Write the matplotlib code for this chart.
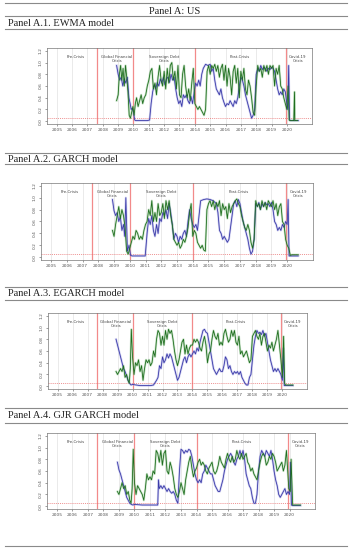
import matplotlib
matplotlib.use("Agg")
import matplotlib.pyplot as plt

# ---------------- data ----------------
years = list(range(2005, 2021))
yticks = [0.0, 0.2, 0.4, 0.6, 0.8, 1.0, 1.2]
crisis_breaks = [2007.6, 2010.0, 2014.0, 2019.93]
threshold = 0.05
region_names = ["Pre-Crisis", "Global Financial\nCrisis", "Sovereign Debt\nCrisis", "Post-Crisis", "Covid-19\nCrisis"]
region_x = [2006.2, 2008.9, 2012.0, 2016.9, 2020.7]
panel_titles = ["Panel A.1. EWMA model", "Panel A.2. GARCH model",
                "Panel A.3. EGARCH model", "Panel A.4. GJR GARCH model"]

# (time, value) pairs
ewma_blue = [(2008.90,0.95),(2009.00,0.80),(2009.10,0.70),(2009.20,0.75),(2009.30,0.60),(2009.40,0.72),(2009.50,0.65),(2009.60,0.75),(2009.70,0.40),(2009.78,0.30),(2009.85,0.20),(2009.92,0.22),(2010.00,0.15),(2010.08,0.02),(2010.15,0.01),(2010.50,0.01),(2010.90,0.01),(2011.05,0.02),(2011.15,0.30),(2011.25,0.50),(2011.35,0.62),(2011.45,0.55),(2011.55,0.66),(2011.65,0.60),(2011.75,0.72),(2011.85,0.65),(2011.95,0.75),(2012.05,0.62),(2012.15,0.72),(2012.25,0.75),(2012.35,0.66),(2012.45,0.80),(2012.55,0.70),(2012.65,0.75),(2012.75,0.55),(2012.85,0.40),(2012.95,0.30),(2013.05,0.35),(2013.15,0.25),(2013.25,0.45),(2013.35,0.40),(2013.45,0.45),(2013.55,0.35),(2013.65,0.30),(2013.75,0.42),(2013.85,0.30),(2013.95,0.48),(2014.05,0.65),(2014.15,0.60),(2014.25,0.70),(2014.35,0.60),(2014.45,0.80),(2014.55,0.90),(2014.70,0.97),(2014.85,0.95),(2015.00,0.97),(2015.10,0.85),(2015.20,0.90),(2015.30,0.70),(2015.40,0.55),(2015.50,0.50),(2015.60,0.45),(2015.70,0.55),(2015.80,0.40),(2015.90,0.32),(2016.00,0.25),(2016.10,0.30),(2016.20,0.28),(2016.30,0.35),(2016.40,0.30),(2016.50,0.25),(2016.60,0.35),(2016.70,0.30),(2016.80,0.40),(2016.90,0.60),(2017.00,0.75),(2017.10,0.70),(2017.20,0.60),(2017.30,0.45),(2017.40,0.35),(2017.50,0.25),(2017.60,0.15),(2017.70,0.05),(2017.80,0.10),(2017.90,0.20),(2018.00,0.80),(2018.10,0.90),(2018.20,0.85),(2018.30,0.95),(2018.40,0.88),(2018.50,0.92),(2018.60,0.90),(2018.70,0.85),(2018.80,0.90),(2018.90,0.88),(2019.00,0.92),(2019.10,0.90),(2019.20,0.85),(2019.30,0.70),(2019.40,0.55),(2019.50,0.45),(2019.60,0.50),(2019.70,0.45),(2019.80,0.55),(2019.90,0.50),(2020.00,0.30),(2020.06,0.20),(2020.12,0.95),(2020.18,0.02),(2020.25,0.01),(2020.75,0.01)]
ewma_green = [(2008.90,0.35),(2009.00,0.45),(2009.08,0.80),(2009.16,0.95),(2009.24,0.70),(2009.32,0.90),(2009.40,0.60),(2009.48,0.95),(2009.56,0.75),(2009.64,0.50),(2009.72,0.10),(2009.80,0.05),(2009.88,0.15),(2009.96,0.25),(2010.04,0.10),(2010.12,0.30),(2010.20,0.40),(2010.30,0.25),(2010.40,0.35),(2010.50,0.45),(2010.60,0.30),(2010.70,0.40),(2010.80,0.45),(2010.90,0.60),(2011.00,0.70),(2011.10,0.85),(2011.20,0.90),(2011.30,0.55),(2011.40,0.65),(2011.50,0.45),(2011.60,0.75),(2011.70,0.95),(2011.80,0.70),(2011.90,0.60),(2012.00,0.85),(2012.10,0.55),(2012.20,0.90),(2012.30,0.65),(2012.40,0.95),(2012.50,1.00),(2012.60,0.70),(2012.70,0.85),(2012.80,0.55),(2012.90,0.95),(2013.00,0.45),(2013.10,0.40),(2013.20,0.80),(2013.30,0.95),(2013.40,0.60),(2013.50,0.40),(2013.60,0.55),(2013.70,0.35),(2013.80,0.65),(2013.90,0.90),(2014.00,0.30),(2014.10,0.25),(2014.20,0.20),(2014.30,0.25),(2014.40,0.20),(2014.50,0.15),(2014.60,0.10),(2014.70,0.20),(2014.80,0.85),(2014.90,0.95),(2015.00,0.80),(2015.10,0.95),(2015.20,0.90),(2015.30,0.97),(2015.40,0.85),(2015.50,0.95),(2015.60,0.75),(2015.70,0.90),(2015.80,0.97),(2015.90,0.70),(2016.00,0.95),(2016.10,0.60),(2016.20,0.90),(2016.30,0.75),(2016.40,0.45),(2016.50,0.85),(2016.60,0.95),(2016.70,0.65),(2016.80,0.90),(2016.90,0.40),(2017.00,0.85),(2017.10,0.70),(2017.20,0.90),(2017.30,0.55),(2017.40,0.45),(2017.50,0.70),(2017.60,0.60),(2017.70,0.40),(2017.80,0.15),(2017.90,0.10),(2018.00,0.60),(2018.10,0.95),(2018.20,0.85),(2018.30,0.90),(2018.40,0.75),(2018.50,0.95),(2018.60,0.85),(2018.70,0.95),(2018.80,0.80),(2018.90,0.95),(2019.00,0.90),(2019.10,0.95),(2019.20,0.60),(2019.30,0.90),(2019.40,0.80),(2019.50,0.95),(2019.60,0.60),(2019.70,0.55),(2019.80,0.40),(2019.90,0.30),(2020.00,0.20),(2020.08,0.60),(2020.15,0.02),(2020.20,0.01),(2020.45,0.01),(2020.50,0.50),(2020.52,0.01),(2020.70,0.01)]

garch_blue = [(2008.90,0.97),(2009.00,0.78),(2009.10,0.70),(2009.20,0.75),(2009.30,0.60),(2009.40,0.68),(2009.50,0.45),(2009.60,0.55),(2009.68,0.35),(2009.75,1.00),(2009.85,0.10),(2009.95,0.20),(2010.05,0.03),(2010.15,0.02),(2010.50,0.02),(2010.98,0.02),(2011.10,0.40),(2011.20,0.65),(2011.30,0.55),(2011.40,0.70),(2011.50,0.45),(2011.60,0.35),(2011.70,0.55),(2011.80,0.40),(2011.90,0.65),(2012.00,0.60),(2012.10,0.75),(2012.20,0.70),(2012.30,0.80),(2012.40,0.65),(2012.50,0.90),(2012.60,0.75),(2012.70,0.55),(2012.80,0.30),(2012.90,0.40),(2013.00,0.35),(2013.10,0.25),(2013.20,0.35),(2013.30,0.30),(2013.40,0.40),(2013.50,0.45),(2013.60,0.35),(2013.70,0.60),(2013.80,0.80),(2013.90,0.65),(2014.00,0.55),(2014.10,0.50),(2014.20,0.55),(2014.30,0.45),(2014.40,0.70),(2014.50,0.95),(2014.70,0.97),(2014.90,0.98),(2015.10,0.97),(2015.30,0.95),(2015.50,0.90),(2015.60,0.75),(2015.70,0.45),(2015.80,0.40),(2015.90,0.30),(2016.00,0.35),(2016.10,0.30),(2016.20,0.25),(2016.30,0.30),(2016.40,0.50),(2016.50,0.70),(2016.60,0.90),(2016.70,0.95),(2016.80,0.85),(2016.90,0.97),(2017.00,0.90),(2017.10,0.75),(2017.20,0.60),(2017.30,0.50),(2017.40,0.40),(2017.50,0.30),(2017.60,0.15),(2017.70,0.05),(2017.80,0.10),(2017.90,0.30),(2018.00,0.90),(2018.10,0.85),(2018.20,0.92),(2018.30,0.80),(2018.40,0.90),(2018.50,0.85),(2018.60,0.92),(2018.70,0.88),(2018.80,0.90),(2018.90,0.85),(2019.00,0.92),(2019.10,0.80),(2019.20,0.60),(2019.30,0.55),(2019.40,0.45),(2019.50,0.50),(2019.60,0.45),(2019.70,0.55),(2019.80,0.50),(2019.90,0.60),(2020.00,0.55),(2020.06,0.97),(2020.12,0.02),(2020.18,0.02),(2020.25,0.02),(2020.70,0.02)]
garch_green = [(2008.90,0.45),(2009.00,0.35),(2009.10,0.55),(2009.20,0.70),(2009.30,0.85),(2009.40,0.65),(2009.50,0.80),(2009.60,0.70),(2009.70,0.50),(2009.80,0.10),(2009.90,0.05),(2010.00,0.15),(2010.10,0.25),(2010.20,0.35),(2010.30,0.30),(2010.40,0.45),(2010.50,0.40),(2010.60,0.30),(2010.70,0.35),(2010.80,0.30),(2010.90,0.45),(2011.00,0.55),(2011.10,0.60),(2011.20,0.80),(2011.30,0.70),(2011.40,0.95),(2011.50,0.60),(2011.60,0.75),(2011.70,0.60),(2011.80,0.90),(2011.90,0.70),(2012.00,0.75),(2012.10,0.90),(2012.20,0.65),(2012.30,0.95),(2012.40,0.80),(2012.50,0.95),(2012.60,0.70),(2012.70,0.55),(2012.80,0.30),(2012.90,0.25),(2013.00,0.20),(2013.10,0.25),(2013.20,0.15),(2013.30,0.20),(2013.40,0.30),(2013.50,0.25),(2013.60,0.35),(2013.70,0.50),(2013.80,0.75),(2013.90,0.90),(2014.00,0.35),(2014.10,0.45),(2014.20,0.40),(2014.30,0.25),(2014.40,0.20),(2014.50,0.15),(2014.60,0.20),(2014.70,0.12),(2014.80,0.10),(2014.90,0.80),(2015.00,0.90),(2015.10,0.95),(2015.20,0.85),(2015.30,0.95),(2015.40,0.80),(2015.50,0.92),(2015.60,0.85),(2015.70,0.95),(2015.80,0.70),(2015.90,0.90),(2016.00,0.80),(2016.10,0.85),(2016.20,0.65),(2016.30,0.90),(2016.40,0.75),(2016.50,0.85),(2016.60,0.90),(2016.70,0.95),(2016.80,0.98),(2016.90,0.90),(2017.00,0.85),(2017.10,0.70),(2017.20,0.60),(2017.30,0.50),(2017.40,0.45),(2017.50,0.55),(2017.60,0.45),(2017.70,0.25),(2017.80,0.15),(2017.90,0.30),(2018.00,0.95),(2018.10,0.85),(2018.20,0.90),(2018.30,0.80),(2018.40,0.95),(2018.50,0.85),(2018.60,0.92),(2018.70,0.80),(2018.80,0.95),(2018.90,0.90),(2019.00,0.85),(2019.10,0.95),(2019.20,0.80),(2019.30,0.90),(2019.40,0.70),(2019.50,0.85),(2019.60,0.90),(2019.70,0.60),(2019.80,0.55),(2019.90,0.30),(2020.00,0.20),(2020.10,0.15),(2020.20,0.03),(2020.30,0.04),(2020.70,0.04)]

egarch_blue = [(2008.90,0.80),(2009.00,0.70),(2009.10,0.60),(2009.20,0.50),(2009.30,0.40),(2009.40,0.30),(2009.50,0.25),(2009.60,0.18),(2009.70,0.10),(2009.80,0.05),(2009.90,0.02),(2010.00,0.03),(2010.50,0.01),(2011.20,0.01),(2011.40,0.02),(2011.60,0.10),(2011.70,0.15),(2011.80,0.35),(2011.90,0.30),(2012.00,0.50),(2012.10,0.40),(2012.20,0.45),(2012.30,0.55),(2012.40,0.48),(2012.50,0.55),(2012.60,0.50),(2012.70,0.40),(2012.80,0.30),(2012.90,0.20),(2013.00,0.10),(2013.10,0.15),(2013.20,0.25),(2013.30,0.35),(2013.40,0.45),(2013.50,0.50),(2013.60,0.40),(2013.70,0.50),(2013.80,0.55),(2013.90,0.50),(2014.00,0.55),(2014.10,0.60),(2014.20,0.55),(2014.30,0.65),(2014.40,0.60),(2014.50,0.75),(2014.60,0.85),(2014.70,0.95),(2014.80,0.97),(2014.90,0.92),(2015.00,0.90),(2015.10,0.75),(2015.20,0.60),(2015.30,0.45),(2015.40,0.30),(2015.50,0.25),(2015.60,0.20),(2015.70,0.25),(2015.80,0.30),(2015.90,0.25),(2016.00,0.25),(2016.10,0.35),(2016.20,0.50),(2016.30,0.45),(2016.40,0.30),(2016.50,0.35),(2016.60,0.25),(2016.70,0.20),(2016.80,0.25),(2016.90,0.22),(2017.00,0.25),(2017.10,0.20),(2017.20,0.25),(2017.30,0.15),(2017.40,0.10),(2017.50,0.05),(2017.60,0.02),(2017.70,0.02),(2017.80,0.15),(2017.90,0.20),(2018.00,0.45),(2018.10,0.70),(2018.20,0.85),(2018.30,0.95),(2018.40,0.90),(2018.50,0.92),(2018.60,0.88),(2018.70,0.95),(2018.80,0.85),(2018.90,0.90),(2019.00,0.75),(2019.10,0.60),(2019.20,0.45),(2019.30,0.35),(2019.40,0.25),(2019.50,0.30),(2019.60,0.25),(2019.70,0.30),(2019.80,0.25),(2019.90,0.20),(2020.00,0.10),(2020.06,0.65),(2020.12,0.01),(2020.25,0.01),(2020.70,0.01)]
egarch_green = [(2008.90,0.25),(2009.00,0.20),(2009.10,0.25),(2009.20,0.30),(2009.30,0.25),(2009.40,0.35),(2009.50,0.15),(2009.60,0.20),(2009.70,0.10),(2009.78,0.05),(2009.85,0.30),(2009.92,0.97),(2010.00,0.50),(2010.10,0.20),(2010.20,0.40),(2010.30,0.35),(2010.40,0.45),(2010.50,0.25),(2010.60,0.35),(2010.70,0.10),(2010.80,0.30),(2010.90,0.45),(2011.00,0.40),(2011.10,0.45),(2011.20,0.35),(2011.30,0.40),(2011.40,0.60),(2011.50,0.50),(2011.60,0.80),(2011.70,0.95),(2011.80,0.90),(2011.90,0.70),(2012.00,0.85),(2012.10,0.70),(2012.20,0.95),(2012.30,0.80),(2012.40,0.97),(2012.50,0.90),(2012.60,0.95),(2012.70,0.80),(2012.80,0.60),(2012.90,0.45),(2013.00,0.35),(2013.10,0.45),(2013.20,0.60),(2013.30,0.75),(2013.40,0.80),(2013.50,0.55),(2013.60,0.70),(2013.70,0.55),(2013.80,0.65),(2013.90,0.70),(2014.00,0.70),(2014.10,0.80),(2014.20,0.75),(2014.30,0.80),(2014.40,0.75),(2014.50,0.65),(2014.60,0.60),(2014.70,0.75),(2014.80,0.85),(2014.90,0.70),(2015.00,0.40),(2015.10,0.55),(2015.20,0.60),(2015.30,0.80),(2015.40,0.95),(2015.50,0.85),(2015.60,0.80),(2015.70,0.90),(2015.80,0.70),(2015.90,0.75),(2016.00,0.70),(2016.10,0.90),(2016.20,0.97),(2016.30,0.85),(2016.40,0.75),(2016.50,0.80),(2016.60,0.95),(2016.70,0.85),(2016.80,0.95),(2016.90,0.75),(2017.00,0.70),(2017.10,0.85),(2017.20,0.55),(2017.30,0.60),(2017.40,0.50),(2017.50,0.55),(2017.60,0.60),(2017.70,0.50),(2017.80,0.40),(2017.90,0.45),(2018.00,0.85),(2018.10,0.90),(2018.20,0.95),(2018.30,0.85),(2018.40,0.80),(2018.50,0.90),(2018.60,0.70),(2018.70,0.85),(2018.80,0.90),(2018.90,0.75),(2019.00,0.60),(2019.10,0.70),(2019.20,0.65),(2019.30,0.75),(2019.40,0.60),(2019.50,0.70),(2019.60,0.80),(2019.70,0.95),(2019.80,0.70),(2019.90,0.45),(2020.00,0.15),(2020.08,0.85),(2020.15,0.05),(2020.20,0.02),(2020.70,0.02)]

gjr_blue = [(2008.90,0.75),(2009.00,0.62),(2009.10,0.55),(2009.20,0.45),(2009.30,0.35),(2009.40,0.25),(2009.50,0.15),(2009.60,0.10),(2009.70,0.05),(2009.80,0.03),(2009.90,0.02),(2010.00,0.03),(2010.50,0.02),(2011.00,0.02),(2011.50,0.02),(2011.55,0.45),(2011.60,0.30),(2011.70,0.35),(2011.80,0.30),(2011.90,0.35),(2012.00,0.30),(2012.10,0.25),(2012.20,0.30),(2012.30,0.25),(2012.40,0.22),(2012.50,0.25),(2012.60,0.20),(2012.70,0.10),(2012.80,0.05),(2012.90,0.60),(2013.00,0.97),(2013.10,0.95),(2013.20,0.90),(2013.30,0.95),(2013.40,0.92),(2013.50,0.97),(2013.60,0.95),(2013.70,0.85),(2013.80,0.70),(2013.90,0.55),(2014.00,0.45),(2014.10,0.40),(2014.20,0.45),(2014.30,0.40),(2014.40,0.55),(2014.50,0.60),(2014.60,0.70),(2014.70,0.65),(2014.80,0.60),(2014.90,0.55),(2015.00,0.55),(2015.10,0.45),(2015.20,0.35),(2015.30,0.30),(2015.40,0.25),(2015.50,0.25),(2015.60,0.35),(2015.70,0.45),(2015.80,0.60),(2015.90,0.70),(2016.00,0.80),(2016.10,0.85),(2016.20,0.90),(2016.30,0.85),(2016.40,0.75),(2016.50,0.70),(2016.60,0.80),(2016.70,0.85),(2016.80,0.95),(2016.90,0.85),(2017.00,0.95),(2017.10,0.80),(2017.20,0.55),(2017.30,0.45),(2017.40,0.35),(2017.50,0.30),(2017.60,0.15),(2017.70,0.05),(2017.80,0.05),(2017.90,0.20),(2018.00,0.60),(2018.10,0.85),(2018.20,0.95),(2018.30,0.90),(2018.40,0.85),(2018.50,0.95),(2018.60,0.90),(2018.70,0.85),(2018.80,0.95),(2018.90,0.80),(2019.00,0.60),(2019.10,0.45),(2019.20,0.35),(2019.30,0.20),(2019.40,0.15),(2019.50,0.20),(2019.60,0.25),(2019.70,0.30),(2019.80,0.20),(2019.90,0.25),(2020.00,0.20),(2020.06,0.75),(2020.12,0.02),(2020.18,0.01),(2020.25,0.01),(2020.70,0.01)]
gjr_green = [(2008.90,0.25),(2009.00,0.20),(2009.10,0.30),(2009.20,0.40),(2009.30,0.30),(2009.40,0.35),(2009.50,0.20),(2009.60,0.25),(2009.70,0.10),(2009.78,0.05),(2009.85,0.30),(2009.92,0.97),(2010.00,0.40),(2010.10,0.20),(2010.20,0.35),(2010.30,0.30),(2010.40,0.25),(2010.50,0.20),(2010.60,0.10),(2010.70,0.30),(2010.80,0.55),(2010.90,0.45),(2011.00,0.50),(2011.10,0.45),(2011.20,0.60),(2011.30,0.55),(2011.40,0.95),(2011.50,0.90),(2011.60,0.75),(2011.70,0.95),(2011.80,0.70),(2011.90,0.90),(2012.00,0.95),(2012.10,0.60),(2012.20,0.55),(2012.30,0.75),(2012.40,0.65),(2012.50,0.50),(2012.60,0.30),(2012.70,0.20),(2012.80,0.15),(2012.90,0.25),(2013.00,0.40),(2013.10,0.30),(2013.20,0.20),(2013.30,0.45),(2013.40,0.60),(2013.50,0.75),(2013.60,0.85),(2013.70,0.65),(2013.80,0.50),(2013.90,0.60),(2014.00,0.65),(2014.10,0.75),(2014.20,0.80),(2014.30,0.70),(2014.40,0.75),(2014.50,0.70),(2014.60,0.60),(2014.70,0.55),(2014.80,0.65),(2014.90,0.70),(2015.00,0.75),(2015.10,0.60),(2015.20,0.55),(2015.30,0.60),(2015.40,0.70),(2015.50,0.85),(2015.60,0.75),(2015.70,0.70),(2015.80,0.65),(2015.90,0.80),(2016.00,0.90),(2016.10,0.80),(2016.20,0.75),(2016.30,0.85),(2016.40,0.75),(2016.50,0.80),(2016.60,0.95),(2016.70,0.85),(2016.80,0.80),(2016.90,0.90),(2017.00,0.80),(2017.10,0.85),(2017.20,0.90),(2017.30,0.75),(2017.40,0.70),(2017.50,0.60),(2017.60,0.65),(2017.70,0.55),(2017.80,0.50),(2017.90,0.45),(2018.00,0.60),(2018.10,0.75),(2018.20,0.85),(2018.30,0.90),(2018.40,0.85),(2018.50,0.70),(2018.60,0.75),(2018.70,0.85),(2018.80,0.80),(2018.90,0.90),(2019.00,0.85),(2019.10,0.75),(2019.20,0.60),(2019.30,0.65),(2019.40,0.70),(2019.50,0.75),(2019.60,0.60),(2019.70,0.70),(2019.80,0.95),(2019.95,0.30),(2020.05,0.25),(2020.10,0.80),(2020.20,0.02),(2020.70,0.02)]

series = [(ewma_blue, ewma_green), (garch_blue, garch_green),
          (egarch_blue, egarch_green), (gjr_blue, gjr_green)]

# ---------------- layout ----------------
W, H = 349, 550
fig = plt.figure(figsize=(W / 100, H / 100), dpi=100)
fig.patch.set_facecolor("white")

def fy(p):
    return 1 - p / H

serif = ["Liberation Serif", "DejaVu Serif"]
rule_col = "#8a8a8a"
for yp in [3, 16, 29, 153, 164, 287, 300, 408, 423, 546]:
    fig.add_artist(plt.Line2D([5 / W, 347 / W], [fy(yp), fy(yp)], color=rule_col, lw=0.8))

fig.text(175 / W, fy(11), "Panel A: US", ha="center", va="center", fontsize=7.5, family=serif, color="#222222")
for title, yp in zip(panel_titles, [23, 159, 294, 416]):
    fig.text(8 / W, fy(yp), title, ha="left", va="center", fontsize=7.5, family=serif, color="#222222")

axes_px = [(47, 48, 312, 124), (41, 183, 313, 260), (48, 313, 307, 389), (47, 433, 315, 509)]

for (l, t, r, b), (blue, green) in zip(axes_px, series):
    ax = fig.add_axes([l / W, 1 - b / H, (r - l) / W, (b - t) / H])
    ax.set_xlim(2004.36, 2021.64)
    ax.set_ylim(-0.048, 1.248)
    for yr in years:
        ax.axvline(yr, color="#e2e2e2", lw=0.5, zorder=0)
    for cb in crisis_breaks:
        ax.axvline(cb, color="#f28a8a", lw=0.9, zorder=1)
    ax.axhline(threshold, color="#e86a6a", lw=0.5, ls=(0, (1.5, 1.5)), zorder=1)
    bt, bv = zip(*blue)
    gt, gv = zip(*green)
    ax.plot(bt, bv, color="#9a9ae0", lw=1.6, alpha=0.45, zorder=2)
    ax.plot(gt, gv, color="#8cc48c", lw=1.6, alpha=0.45, zorder=3)
    ax.plot(bt, bv, color="#3a3aa8", lw=0.6, zorder=4)
    ax.plot(gt, gv, color="#1f6e1f", lw=0.6, zorder=5)
    for name, xr in zip(region_names, region_x):
        ax.text(xr, 1.13, name, ha="center", va="top", fontsize=2.8, color="#444444", linespacing=1.1)
    ax.set_xticks(years)
    ax.set_xticklabels([str(y) for y in years])
    ax.set_yticks(yticks)
    ax.set_yticklabels([f"{v:.1f}" for v in yticks], rotation=90, va="center")
    ax.tick_params(axis="both", labelsize=3.2, colors="#555555", length=1.5, width=0.4, pad=1.5)
    for s in ax.spines.values():
        s.set_color("#777777")
        s.set_linewidth(0.5)

fig.savefig("out.png", dpi=100, facecolor="white")
